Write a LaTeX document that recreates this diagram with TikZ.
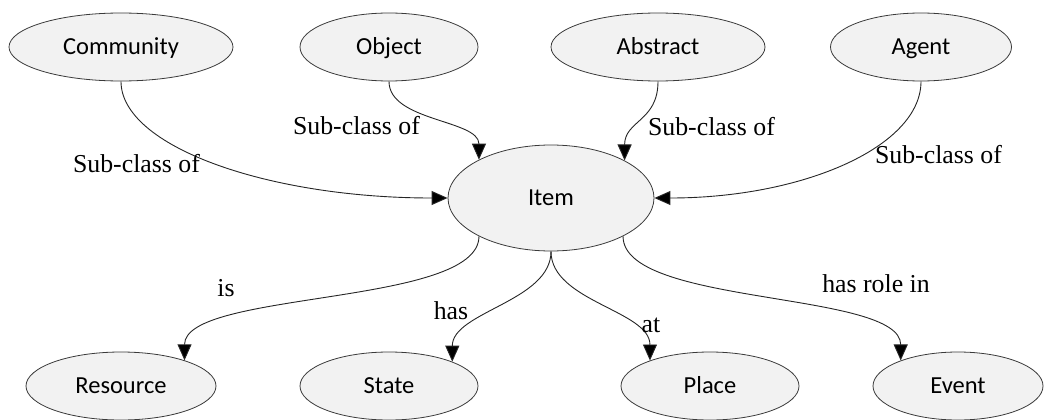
\documentclass[tikz,border=0pt]{standalone}
\usepackage{fontspec}
\setmainfont{Liberation Serif}
\newfontfamily\nodefont{Carlito}
\usetikzlibrary{shapes.geometric,arrows.meta}
\definecolor{nodefill}{HTML}{F2F2F2}
\definecolor{bordergray}{HTML}{3A3A3A}
\definecolor{inkgray}{HTML}{262626}
\begin{document}
\begin{tikzpicture}[x=1pt,y=1pt,
  ent/.style={ellipse, draw=bordergray, fill=nodefill, line width=0.8pt,
    inner sep=0pt, minimum height=68pt, text height=15.8pt, text depth=0pt,
    font=\nodefont\fontsize{24.5}{28}\selectfont},
  lbl/.style={inner sep=0pt, font=\fontsize{25.8}{30}\selectfont},
  rel/.style={draw=inkgray, line width=0.9pt,
    -{Triangle[length=16pt,width=14pt,fill=black]}}]
\useasboundingbox (0,0) rectangle (1046,-420);

% classes
\node[ent, minimum width=224pt] (comm)  at (121,-47) {Community};
\node[ent, minimum width=178pt] (obj)   at (389,-47) {Object};
\node[ent, minimum width=214pt] (abs)   at (658,-47) {Abstract};
\node[ent, minimum width=181pt] (agent) at (921,-47) {Agent};
\node[ent, minimum width=206pt, minimum height=106pt] (item) at (551,-198) {Item};
\node[ent, minimum width=190pt] (res)   at (121,-386) {Resource};
\node[ent, minimum width=178pt] (state) at (389,-386) {State};
\node[ent, minimum width=178pt] (place) at (710,-386) {Place};
\node[ent, minimum width=170pt] (event) at (958,-386) {Event};

% sub-class relations
\draw[rel] (comm.south) to[out=-90,in=180,out distance=65pt,in distance=180pt] (item.west);
\draw[rel] (obj.south) to[out=-90,in=90,out distance=40pt,in distance=40pt] (item.152.5);
\draw[rel] (abs.south) to[out=-90,in=90,out distance=40pt,in distance=40pt] (item.27);
\draw[rel] (agent.south) to[out=-90,in=0,out distance=65pt,in distance=149pt] (item.east);

% properties of an item
\draw[rel] (item.208) to[out=-90,in=90,out distance=70pt,in distance=70pt] (res.22);
\draw[rel] (item.south) to[out=-90,in=90,out distance=50pt,in distance=50pt] (state.21.5);
\draw[rel] (item.south) to[out=-90,in=90,out distance=50pt,in distance=50pt] (place.157);
\draw[rel] (item.332) to[out=-90,in=90,out distance=70pt,in distance=70pt] (event.156);

% relation labels
\node[lbl] (l-comm)  at (136.5,-164) {Sub-class of};
\node[lbl] (l-obj)   at (356.5,-126) {Sub-class of};
\node[lbl] (l-abs)   at (711.5,-126.5) {Sub-class of};
\node[lbl] (l-agent) at (938.5,-155) {Sub-class of};
\node[lbl] (l-is)    at (226,-288) {is};
\node[lbl] (l-has)   at (451,-311) {has};
\node[lbl] (l-at)    at (651,-325) {at};
\node[lbl] (l-role)  at (876,-284) {has role in};
\end{tikzpicture}
\end{document}
